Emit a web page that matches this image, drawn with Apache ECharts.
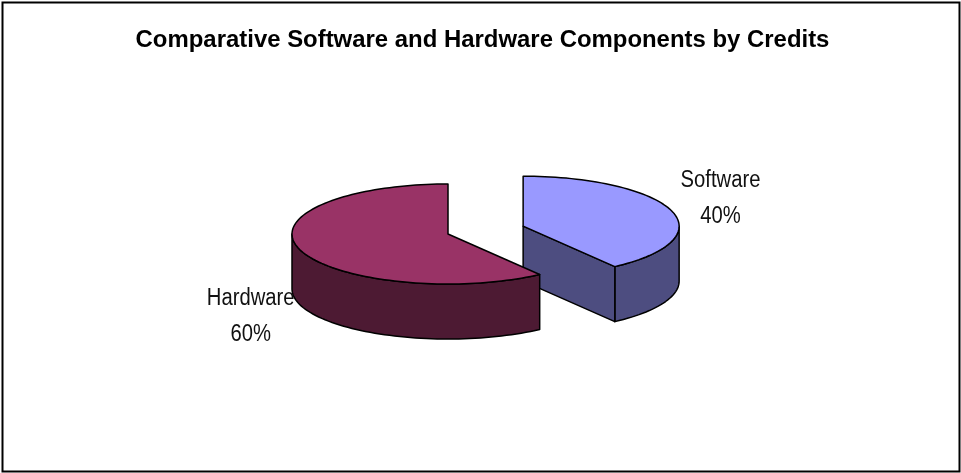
<!DOCTYPE html>
<html><head><meta charset="utf-8">
<script src="https://cdn.jsdelivr.net/npm/echarts@6/dist/echarts.min.js"></script>
<style>html,body{margin:0;padding:0;background:#fff}#c{width:961px;height:473px}</style>
</head><body><div id="c"></div>
<script>
const titleText = 'Comparative Software and Hardware Components by Credits';
const categories = ['Software', 'Hardware'];
const values = [40, 60];

const topColors = ['#9999ff', '#993366'];
const sideColors = ['#4d4d80', '#4d1a33'];
const explodeDist = [79, 0];
const CX = 448, CY = 234, RX = 156, RY = 50, DEPTH = 55;
const FONT = '"Liberation Sans", Arial, sans-serif';

const total = values.reduce((a, b) => a + b, 0);
const cum = [];
values.reduce((acc, v, i) => { cum[i] = acc; return acc + v; }, 0);
const rad = d => d * Math.PI / 180;

function arcPts(cx, cy, a1, a2, dz) {
  const pts = [];
  const n = Math.max(2, Math.ceil(Math.abs(a2 - a1) / 2));
  for (let k = 0; k <= n; k++) {
    const a = rad(a1 + (a2 - a1) * k / n);
    pts.push([cx + RX * Math.cos(a), cy - RY * Math.sin(a) + dz]);
  }
  return pts;
}

function renderItem(params, api) {
  const i = params.dataIndex;
  const start = 90 - cum[i] / total * 360;
  const end = start - values[i] / total * 360;
  const mid = (start + end) / 2;
  const off = explodeDist[i];
  const cx = CX + off * Math.cos(rad(mid));
  const cy = CY - off * (RY / RX) * Math.sin(rad(mid));
  const stroke = { stroke: '#000', lineWidth: 1.5, lineJoin: 'round' };
  const children = [];
  const lo = Math.min(start, end), hi = Math.max(start, end);
  // outer visible side (front half)
  for (let k = -2; k <= 2; k++) {
    const a1 = Math.max(lo, -180 + 360 * k), a2 = Math.min(hi, 360 * k);
    if (a2 - a1 > 0.01) {
      const topA = arcPts(cx, cy, a1, a2, 0);
      const botA = arcPts(cx, cy, a1, a2, DEPTH).reverse();
      children.push({ type: 'polygon', shape: { points: topA.concat(botA) },
        style: Object.assign({ fill: sideColors[i] }, stroke) });
    }
  }
  // radial faces
  const faces = [];
  if (Math.cos(rad(start)) < -1e-6) faces.push(start);
  if (Math.cos(rad(end)) > 1e-6) faces.push(end);
  faces.forEach(a => {
    const px = cx + RX * Math.cos(rad(a)), py = cy - RY * Math.sin(rad(a));
    children.push({ type: 'polygon',
      shape: { points: [[cx, cy], [px, py], [px, py + DEPTH], [cx, cy + DEPTH]] },
      style: Object.assign({ fill: sideColors[i] }, stroke) });
  });
  // top
  const topPts = [[cx, cy]].concat(arcPts(cx, cy, start, end, 0));
  children.push({ type: 'polygon', shape: { points: topPts },
    style: Object.assign({ fill: topColors[i] }, stroke) });
  // label
  const s = Math.sin(rad(mid)), c = Math.cos(rad(mid));
  const lx = cx + RX * 1.33 * c;
  const ly = cy - RY * 1.8 * s + (s < 0 ? DEPTH : 0);
  children.push({ type: 'text', x: lx, y: ly, scaleX: 0.88, scaleY: 1, style: {
    text: categories[i] + '\n' + Math.round(values[i] / total * 100) + '%',
    x: 0, y: 0, align: 'center', verticalAlign: 'middle',
    textAlign: 'center', textVerticalAlign: 'middle',
    font: '23px ' + FONT, lineHeight: 36, fill: '#111' } });
  return { type: 'group', children };
}

const chart = echarts.init(document.getElementById('c'), null, { renderer: 'canvas' });
chart.setOption({
  animation: false,
  backgroundColor: '#fff',
  graphic: [
    { type: 'rect', shape: { x: 2.5, y: 2.5, width: 957, height: 469 },
      style: { fill: 'none', stroke: '#000', lineWidth: 2 }, z: 100 },
    { type: 'text', x: 482.5, y: 40.5, scaleX: 1.04, style: { text: titleText,
      x: 0, y: 0, align: 'center', verticalAlign: 'middle',
      textAlign: 'center', textVerticalAlign: 'middle',
      font: 'bold 23px ' + FONT, fill: '#000' }, z: 100 }
  ],
  series: [{ type: 'custom', coordinateSystem: 'none', renderItem,
    data: categories.map((n, i) => ({ name: n, value: values[i] })) }]
});
</script></body></html>
